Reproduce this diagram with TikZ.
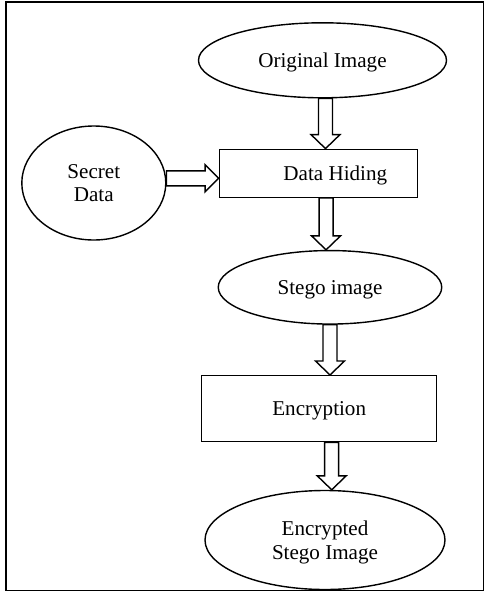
\documentclass[tikz,border=0pt]{standalone}
\usepackage{fontspec}
\setmainfont{Liberation Serif}
\usetikzlibrary{shapes.geometric, calc}

\begin{document}
\begin{tikzpicture}[x=0.2mm, y=-0.2mm,
  every node/.style={font=\fontsize{12}{13.3}\selectfont, align=center, inner sep=0pt, text depth=0pt},
  oval/.style={draw, ellipse, line width=0.8pt},
  box/.style={draw, rectangle, line width=0.8pt},
  downblock/.style={draw, fill=white, line width=0.8pt, line join=miter,
    to path={let \p1=(\tikztostart), \p2=(\tikztotarget) in
      (\x1-0.14cm,\y1) -- (\x1-0.14cm,\y2+0.28cm) -- (\x1-0.29cm,\y2+0.28cm)
      -- (\x1,\y2) -- (\x1+0.29cm,\y2+0.28cm) -- (\x1+0.14cm,\y2+0.28cm)
      -- (\x1+0.14cm,\y1) -- cycle}},
  rightblock/.style={draw, fill=white, line width=0.8pt, line join=miter,
    to path={let \p1=(\tikztostart), \p2=(\tikztotarget) in
      (\x1,\y1+0.15cm) -- (\x2-0.27cm,\y1+0.15cm) -- (\x2-0.27cm,\y1+0.27cm)
      -- (\x2,\y1) -- (\x2-0.27cm,\y1-0.27cm) -- (\x2-0.27cm,\y1-0.15cm)
      -- (\x1,\y1-0.15cm) -- cycle}}]

\useasboundingbox (0,0) rectangle (485,592);

% frame
\draw[line width=0.9pt] (6,2) rectangle (483.5,590.5);

% stages
\node[oval, minimum width=4.96cm, minimum height=1.5cm] (orig) at (322.5,60.3) {Original Image};
\node[oval, minimum width=2.88cm, minimum height=2.28cm] (secret) at (93.8,183) {Secret\\Data};
\node[box, minimum width=3.96cm, minimum height=0.96cm] (hide) at (318.3,173.3) {\hspace*{0.68cm}Data Hiding};
\node[oval, minimum width=4.47cm, minimum height=1.47cm] (stego) at (330,287.3) {Stego image};
\node[box, minimum width=4.7cm, minimum height=1.32cm] (enc) at (319.2,408.7) {Encryption};
\node[oval, minimum width=4.8cm, minimum height=1.98cm] (esi) at (325,540) {Encrypted\\Stego Image};

% block arrows
\draw[downblock] ([xshift=0.06cm]orig.south) to (hide.north);
\draw[rightblock] ([yshift=0.094cm]secret.east) to (hide.west);
\draw[downblock] ([xshift=0.155cm]hide.south) to (stego.north);
\draw[downblock] (stego.south) to (enc.north);
\draw[downblock] ([xshift=0.25cm]enc.south) to (esi.north);

\end{tikzpicture}
\end{document}
